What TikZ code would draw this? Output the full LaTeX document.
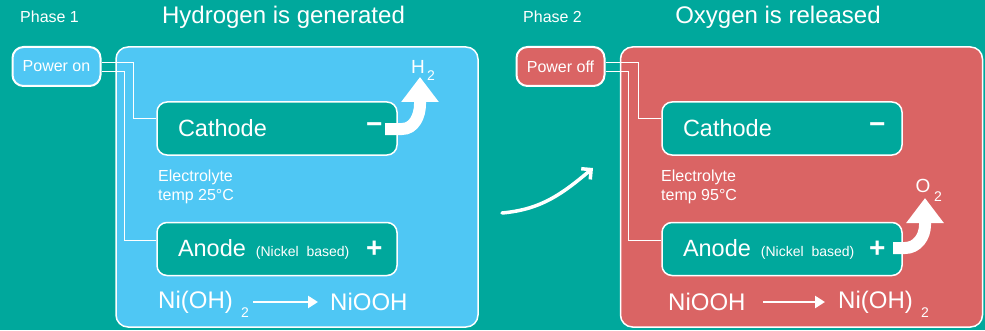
\documentclass[tikz,border=0pt]{standalone}
\usepackage{fontspec}
\setmainfont{Liberation Sans}
\usetikzlibrary{positioning, arrows.meta}
\definecolor{bgteal}{RGB}{0,168,156}
\definecolor{cellblue}{RGB}{79,199,244}
\definecolor{cellred}{RGB}{218,100,100}

\begin{document}
\begin{tikzpicture}[x=1pt, y=1pt,
    panel/.style={draw=white, line width=1.5pt, rounded corners=12pt, minimum width=362pt, minimum height=280pt, inner sep=0pt},
    switch/.style={draw=white, line width=2pt, rounded corners=11pt, minimum width=88pt, minimum height=39pt, inner sep=0pt, text=white, font=\fontsize{16}{18}\selectfont},
    electrode/.style={draw=white, line width=1.5pt, fill=bgteal, rounded corners=10pt, text width=198pt, inner xsep=21pt, minimum height=53pt, align=left, text=white, font=\fontsize{23.5}{26}\selectfont},
    sign/.style={text=white, font=\fontsize{28}{30}\selectfont\bfseries, inner sep=0pt},
    title/.style={text=white, font=\fontsize{24}{28}\selectfont},
    phase/.style={text=white, font=\fontsize{16}{18}\selectfont, anchor=west, inner sep=0pt},
    note/.style={text=white, font=\fontsize{16}{19}\selectfont, align=left, anchor=north west, inner sep=0pt},
    chem/.style={text=white, font=\fontsize{24}{26}\selectfont, anchor=west, inner sep=0pt},
    sub/.style={text=white, font=\fontsize{14}{16}\selectfont, inner sep=0pt},
    gas/.style={text=white, font=\fontsize{19}{21}\selectfont, inner sep=0pt},
    wire/.style={draw=white, line width=1pt},
    bubble/.style={draw=white, line width=12pt, -{Triangle[length=25pt, width=36pt]}},
    react/.style={draw=white, line width=2.5pt, -{Triangle[length=10pt, width=12pt]}},
    phaseflow/.style={draw=white, line width=3.5pt, line cap=round, -{Straight Barb[length=7pt, width=14pt]}}]

    \fill[bgteal] (0,0) rectangle (985,330);
    \useasboundingbox (0,0) rectangle (985,330);

    % phase 1
    \node[phase] (ph1) at (20,313) {Phase 1};
    \node[title] (tA) at (283.5,313) {Hydrogen is generated};
    \node[panel, fill=cellblue] (cellA) at (297,143) {};
    \node[switch, fill=cellblue] (pwrA) at (56.5,263.5) {Power on};
    \node[electrode] (cathA) at (277,201.5) {Cathode};
    \node[electrode] (anA) at (277,81) {Anode\hspace{10pt}\mbox{\fontsize{14}{16}\selectfont(Nickel based)}};
    \draw[wire] ([yshift=3.5pt]pwrA.east) -- ++(32,0) |- ([yshift=10.5pt]cathA.west);
    \draw[wire] ([yshift=-5.5pt]pwrA.east) -- ++(23,0) |- ([yshift=9pt]anA.west);
    \node[sign, left=15pt of cathA.east] (minA) {−};
    \node[sign, left=15pt of anA.east] (plusA) {+};
    \node[note] (elA) at (158,160) {Electrolyte\\temp 25°C};

    \coordinate (hsA) at (385,201);
    \draw[bubble] (hsA) -- ++(17,0) to[out=0, in=-90] (420,226) -- (420,253);
    \node[gas] (hA) at (418,263) {H};
    \node[sub] (h2A) at (431,254) {2};

    \node[chem] (nohA) at (158,28) {Ni(OH)};
    \node[sub] (subA) at (245,17) {2};
    \node[chem] (noohA) at (330,28) {NiOOH};
    \coordinate (rxA) at (253,28);
    \draw[react] (rxA) -- ([xshift=-12pt]noohA.west);

    % switch over
    \coordinate (swA) at (502,117);
    \coordinate (swB) at (593,162);
    \draw[phaseflow] (swA) to[out=5, in=-140] (swB);

    % phase 2
    \node[phase] (ph2) at (523,313) {Phase 2};
    \node[title] (tB) at (778,313) {Oxygen is released};
    \node[panel, fill=cellred] (cellB) at (801.5,143) {};
    \node[switch, fill=cellred] (pwrB) at (560.5,263.5) {Power off};
    \node[electrode] (cathB) at (782,201.5) {Cathode};
    \node[electrode] (anB) at (782,81) {Anode\hspace{10pt}\mbox{\fontsize{14}{16}\selectfont(Nickel based)}};
    \draw[wire] ([yshift=3.5pt]pwrB.east) -- ++(33,0) |- ([yshift=10.5pt]cathB.west);
    \draw[wire] ([yshift=-5.5pt]pwrB.east) -- ++(23,0) |- ([yshift=9pt]anB.west);
    \node[sign, left=17pt of cathB.east] (minB) {−};
    \node[sign, left=17pt of anB.east] (plusB) {+};
    \node[note] (elB) at (661,160) {Electrolyte\\temp 95°C};

    \coordinate (osB) at (893,82);
    \draw[bubble] (osB) -- ++(12,0) to[out=0, in=-90] (925,105) -- (925,132);
    \node[gas] (oB) at (923,144) {O};
    \node[sub] (o2B) at (938,133) {2};

    \node[chem] (noohB) at (668,28) {NiOOH};
    \node[chem] (nohB) at (838,28) {Ni(OH)};
    \node[sub] (subB) at (925,17) {2};
    \coordinate (rxB) at (763,28);
    \draw[react] (rxB) -- ([xshift=-13pt]nohB.west);
\end{tikzpicture}
\end{document}
